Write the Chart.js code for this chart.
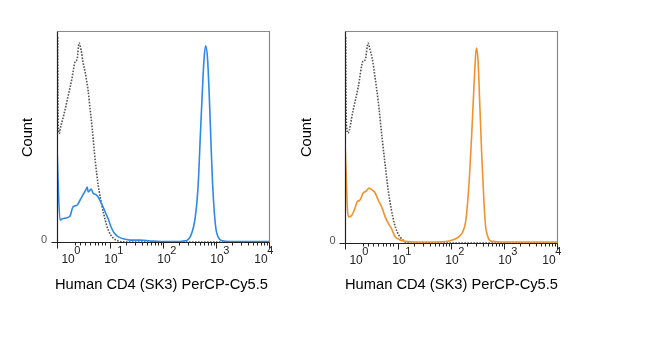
<!DOCTYPE html>
<html><head><meta charset="utf-8">
<script src="https://cdn.jsdelivr.net/npm/chart.js@4.4.0/dist/chart.umd.min.js"></script>
<style>
html,body{margin:0;padding:0;background:#fff;width:649px;height:360px;overflow:hidden}
canvas{position:absolute;top:0}
</style></head><body>
<canvas id="c1" width="330" height="310" style="left:0px"></canvas>
<canvas id="c2" width="330" height="310" style="left:288px"></canvas>
<script>
// ---- axis / text data ----
const tickPos = [0.19, 1, 2, 3, 4];
const tickBase = ['10', '10', '10', '10', '10'];
const tickSup = ['0', '1', '2', '3', '4'];
const minorFirstDecade = [0.34, 0.44, 0.53, 0.63, 0.72, 0.78, 0.85, 0.91];
const yTickLabels = ['0'];
const xTitle = 'Human CD4 (SK3) PerCP-Cy5.5';
const yTitle = 'Count';

// ---- left panel: CD4 PerCP-Cy5.5 (blue) ----
const blueX = [0, 0.02, 0.057, 0.095, 0.17, 0.246, 0.30, 0.38, 0.436, 0.49, 0.55, 0.569, 0.588, 0.626, 0.645, 0.68, 0.74, 0.777, 0.815, 0.853, 0.91, 0.967, 1.02, 1.08, 1.16, 1.27, 1.38, 1.57, 1.76, 1.95, 2.24, 2.39, 2.46, 2.52, 2.58, 2.61, 2.64, 2.67, 2.70, 2.74, 2.775, 2.805, 2.84, 2.875, 2.905, 2.935, 2.97, 3.00, 3.04, 3.10, 3.28, 4.0];
const blueY = [46, 29, 10.4, 10.9, 11.4, 12.3, 16.6, 17.5, 19.9, 22.3, 25.1, 26.1, 23.7, 24.6, 25.1, 23.2, 22.3, 21.3, 19.4, 17.5, 14.2, 10.9, 7.1, 4.3, 2.4, 1.4, 0.9, 0.9, 0.5, 0.2, 0.2, 0.5, 0.9, 2.8, 7.6, 12, 19, 30, 48, 70, 87, 93, 87, 68, 47, 28, 13.5, 6, 2.4, 0.7, 0.2, 0.2];
const ctrl1X = [0.012, 0.015, 0.022, 0.047, 0.057, 0.133, 0.21, 0.284, 0.34, 0.38, 0.417, 0.455, 0.49, 0.53, 0.588, 0.626, 0.664, 0.72, 0.777, 0.853, 0.91, 0.967, 1.06, 1.16, 1.29, 4.0];
const ctrl1Y = [97, 77, 55.5, 51.5, 53, 60.7, 69.2, 77.7, 85.3, 86.7, 94.3, 91, 85.3, 80.6, 71.6, 62.6, 54, 38.9, 27, 16.6, 10.4, 5.7, 1.9, 0.5, 0, 0];

// ---- right panel: orange ----
const orangeX = [0, 0.019, 0.047, 0.076, 0.133, 0.19, 0.227, 0.284, 0.341, 0.398, 0.455, 0.512, 0.569, 0.626, 0.70, 0.758, 0.815, 0.89, 0.948, 1.005, 1.10, 1.29, 1.61, 1.90, 2.03, 2.14, 2.22, 2.275, 2.31, 2.35, 2.39, 2.43, 2.465, 2.48, 2.51, 2.54, 2.58, 2.62, 2.65, 2.69, 2.75, 2.94, 4.0];
const orangeY = [47.2, 34.4, 15.6, 12.3, 13.2, 16.5, 19.3, 20.3, 23.6, 24.5, 25.9, 25, 23.6, 20.3, 16.5, 12.3, 9.4, 6.1, 2.8, 1.9, 0.9, 0.5, 0.5, 0.7, 1.4, 2.8, 5.2, 9.9, 17.9, 32.1, 50.9, 72.2, 88.7, 92, 86.3, 67.5, 41.5, 20.3, 8.5, 3.3, 0.9, 0.5, 0.5];
const ctrl2X = [0.012, 0.016, 0.028, 0.057, 0.15, 0.246, 0.341, 0.38, 0.436, 0.474, 0.512, 0.569, 0.626, 0.70, 0.758, 0.815, 0.872, 0.93, 0.986, 1.04, 1.14, 1.27, 4.0];
const ctrl2Y = [97, 77, 55.7, 51.9, 62.3, 73.1, 85.8, 86.3, 94.3, 91, 87.3, 77.8, 67, 49.5, 36.8, 25, 16, 9.4, 5.2, 2.8, 0.5, 0, 0];

const FONT = '"Liberation Sans", Arial, Helvetica, sans-serif';

const decor = {
  id: 'decor',
  afterDraw(chart, args, o) {
    const {ctx, chartArea: a, scales: {x, y}} = chart;
    ctx.save();
    const L = Math.round(a.left) + 0.5, R = Math.round(a.right) + 0.5;
    const T = Math.round(a.top) + 0.5, B = Math.round(a.bottom) + 0.5;
    ctx.lineWidth = 1.2;
    ctx.strokeStyle = '#8a8a8a';
    ctx.beginPath(); ctx.moveTo(L, T); ctx.lineTo(R, T); ctx.lineTo(R, B); ctx.stroke();
    ctx.strokeStyle = '#222';
    ctx.beginPath(); ctx.moveTo(L, T); ctx.lineTo(L, B); ctx.lineTo(R, B); ctx.stroke();
    ctx.lineWidth = 1;
    const majors = [0].concat(tickPos.slice(1));
    majors.forEach(v => {
      const px = Math.round(x.getPixelForValue(v)) + 0.5;
      ctx.beginPath(); ctx.moveTo(px, B); ctx.lineTo(px, B + 6); ctx.stroke();
    });
    const minors = minorFirstDecade.slice();
    for (let n = 1; n <= 3; n++) for (let k = 2; k <= 9; k++) minors.push(n + Math.log10(k));
    minors.forEach(v => {
      const px = Math.round(x.getPixelForValue(v)) + 0.5;
      ctx.beginPath(); ctx.moveTo(px, B); ctx.lineTo(px, B + 3); ctx.stroke();
    });
    const y0 = Math.round(y.getPixelForValue(0)) + 0.5;
    ctx.beginPath(); ctx.moveTo(L - 6, y0); ctx.lineTo(L, y0); ctx.stroke();
    ctx.fillStyle = '#222';
    ctx.textBaseline = 'alphabetic';
    tickPos.forEach((v, i) => {
      const px = x.getPixelForValue(v);
      ctx.font = '12px ' + FONT;
      const wb = ctx.measureText(tickBase[i]).width;
      const shift = (i === tickPos.length - 1) ? -8 : 1;
      const cx = px + shift;
      ctx.textAlign = 'center';
      ctx.fillText(tickBase[i], cx, a.bottom + 21);
      ctx.font = '11px ' + FONT;
      ctx.textAlign = 'left';
      ctx.fillText(tickSup[i], cx + wb / 2 - 0.5, a.bottom + 12);
    });
    ctx.font = '11px ' + FONT;
    ctx.fillStyle = '#555';
    ctx.textAlign = 'center';
    ctx.fillText(yTickLabels[0], a.left - o.zeroOff, y.getPixelForValue(0) + 0.5);
    ctx.fillStyle = '#000';
    ctx.font = '14.7px ' + FONT;
    ctx.textAlign = 'center';
    ctx.fillText(xTitle, o.xTitleX, 288.5);
    ctx.save();
    ctx.translate(o.yTitleX, 137.5);
    ctx.rotate(-Math.PI / 2);
    ctx.textBaseline = 'middle';
    ctx.fillText(yTitle, 0, 0);
    ctx.restore();
    ctx.restore();
  }
};

function toPts(xs, ys) { return xs.map((v, i) => ({x: v, y: ys[i]})); }

function makeChart(id, sx, sy, color, cx, cy, opt) {
  const H = 310;
  return new Chart(document.getElementById(id), {
    type: 'line',
    data: {
      datasets: [
        {data: toPts(sx, sy), borderColor: color, borderWidth: 1.6, pointRadius: 0, cubicInterpolationMode: 'monotone', fill: false},
        {data: toPts(cx, cy), borderColor: '#555', borderWidth: 1.6, borderDash: [1.6, 1.4], pointRadius: 0, cubicInterpolationMode: 'monotone', fill: false}
      ]
    },
    options: {
      responsive: false, animation: false, devicePixelRatio: 1,
      layout: {padding: {left: 0, top: opt.top, right: 330 - 269, bottom: 0}},
      plugins: {legend: {display: false}, tooltip: {enabled: false}, decor: opt},
      scales: {
        x: {type: 'linear', min: 0, max: 4, ticks: {display: false}, grid: {display: false}, border: {display: false},
            afterFit(s) { s.height = H - opt.bottom; }},
        y: {type: 'linear', min: 0, max: 100, ticks: {display: false}, grid: {display: false}, border: {display: false},
            afterFit(s) { s.width = 57; }}
      }
    },
    plugins: [decor]
  });
}

makeChart('c1', blueX, blueY, '#2d8ae6', ctrl1X, ctrl1Y, {top: 31, bottom: 242, xTitleX: 161.5, yTitleX: 28, zeroOff: 13});
makeChart('c2', orangeX, orangeY, '#f0922e', ctrl2X, ctrl2Y, {top: 31, bottom: 243, xTitleX: 163.5, yTitleX: 19, zeroOff: 12.5});
</script>
</body></html>
